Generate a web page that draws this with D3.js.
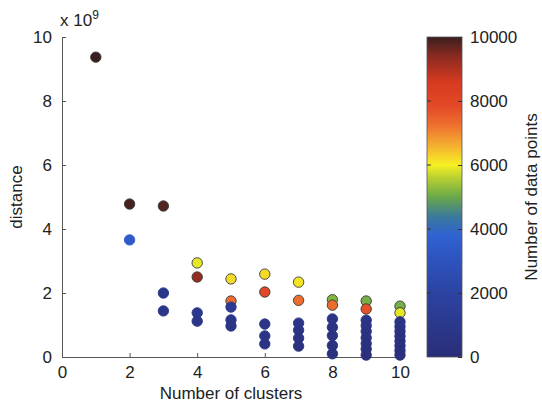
<!DOCTYPE html>
<html>
<head>
<meta charset="utf-8">
<script src="https://cdn.jsdelivr.net/npm/d3@7"></script>
<style>
  body { margin: 0; background: #fff; }
  text { font-family: "Liberation Sans", Arial, sans-serif; fill: #222; }
</style>
</head>
<body>
<div id="graf"></div>
<script>
// Datos: numero de clusters, distancia (x 1e9), puntos por cluster
const clusters = [1, 2, 2, 3, 3, 3,
  4, 4, 4, 4,
  5, 5, 5, 5, 5,
  6, 6, 6, 6, 6,
  7, 7, 7, 7, 7, 7,
  8, 8, 8, 8, 8, 8, 8,
  9, 9, 9, 9, 9, 9, 9, 9, 9,
  10, 10, 10, 10, 10, 10, 10, 10, 10, 10]
const distancias = [9.37, 4.78, 3.66, 4.72, 2.0, 1.44,
  2.94, 2.5, 1.38, 1.12,
  2.44, 1.75, 1.56, 1.16, 0.97,
  2.59, 2.03, 1.03, 0.66, 0.41,
  2.34, 1.77, 1.06, 0.84, 0.59, 0.34,
  1.79, 1.62, 1.19, 0.93, 0.67, 0.36, 0.1,
  1.75, 1.5, 1.15, 0.98, 0.8, 0.6, 0.42, 0.25, 0.06,
  1.59, 1.38, 1.1, 0.95, 0.8, 0.65, 0.5, 0.35, 0.2, 0.06]
const puntos = [10000, 9900, 3400, 9800, 900, 800,
  5900, 9300, 900, 800,
  6200, 7300, 1200, 800, 700,
  6200, 7900, 800, 600, 500,
  6100, 7300, 700, 600, 500, 400,
  5200, 7300, 700, 600, 500, 400, 300,
  5100, 7700, 700, 600, 500, 400, 400, 300, 200,
  5100, 5900, 700, 600, 500, 400, 400, 300, 200, 200]

const xTicks = [0, 2, 4, 6, 8, 10]
const yTicks = [0, 2, 4, 6, 8, 10]
const cTicks = [0, 2000, 4000, 6000, 8000, 10000]

// Mapa de color (tipo jet)
const cStops = [0, 1000, 2000, 3000, 3800, 4400, 5000, 5600, 6000, 6600, 7200, 7800, 8600, 9400, 10000]
const cColors = ["#2a2e78", "#2b388c", "#2c43a2", "#2d53bd", "#3062d2", "#3a7a9a", "#6aa84a",
  "#b8d030", "#f5f022", "#f5b030", "#ef7430", "#e44a28", "#d63a20", "#8a2a20", "#3a1f1f"]

const data = clusters.map((k, i) => ({ k, d: distancias[i], n: puntos[i] }))

const ancho = 542, alto = 404
const fs = "17px"
const svg = d3.select("#graf").append("svg")
  .attr("width", ancho).attr("height", alto)

const x = d3.scaleLinear().domain([0, 10]).range([62, 400])
const y = d3.scaleLinear().domain([0, 10]).range([357, 37])
const color = d3.scaleLinear().domain(cStops).range(cColors)
const cy = d3.scaleLinear().domain([0, 10000]).range([357, 37])

const gris = "#555"

// Ejes
const xAxis = svg.append("g").attr("transform", `translate(0, ${y(0)})`)
  .call(d3.axisBottom(x).tickValues(xTicks).tickSizeInner(-4).tickSizeOuter(0).tickPadding(9))
const yAxis = svg.append("g").attr("transform", `translate(${x(0)}, 0)`)
  .call(d3.axisLeft(y).tickValues(yTicks).tickSizeInner(-4).tickSizeOuter(0).tickPadding(10))
;[xAxis, yAxis].forEach(a => {
  a.select(".domain").attr("stroke", gris)
  a.selectAll(".tick line").attr("stroke", gris)
  a.selectAll("text").style("font-size", fs).attr("fill", "#222")
})

// Puntos
svg.append("g").selectAll("circle")
  .data(data)
  .join("circle")
  .attr("cx", d => x(d.k))
  .attr("cy", d => y(d.d))
  .attr("r", 5.2)
  .attr("fill", d => color(d.n))
  .attr("stroke", d => d.n < 4000 ? color(d.n) : "#3a3a3a")
  .attr("stroke-width", 0.9)

// Multiplicador
const mult = svg.append("text").attr("x", 60).attr("y", 26).style("font-size", fs)
mult.append("tspan").text("x 10")
mult.append("tspan").attr("dy", -7).style("font-size", "12px").text("9")

// Titulos de ejes
svg.append("text")
  .attr("transform", `translate(22, ${y(5)}) rotate(-90)`)
  .attr("text-anchor", "middle")
  .style("font-size", fs)
  .text("distance")
svg.append("text")
  .attr("x", x(5)).attr("y", 399)
  .attr("text-anchor", "middle")
  .style("font-size", fs)
  .text("Number of clusters")

// Barra de color
const defs = svg.append("defs")
const grad = defs.append("linearGradient").attr("id", "cbar")
  .attr("x1", 0).attr("y1", 1).attr("x2", 0).attr("y2", 0)
grad.selectAll("stop").data(cStops).join("stop")
  .attr("offset", d => d / 10000)
  .attr("stop-color", d => color(d))

const cx0 = 427, cx1 = 462
svg.append("rect")
  .attr("x", cx0).attr("y", cy(10000))
  .attr("width", cx1 - cx0).attr("height", cy(0) - cy(10000))
  .attr("fill", "url(#cbar)")
  .attr("stroke", gris).attr("stroke-width", 0.8)

const cAxis = svg.append("g").attr("transform", `translate(${cx1}, 0)`)
  .call(d3.axisRight(cy).tickValues(cTicks).tickFormat(d3.format("d")).tickSizeInner(-4).tickSizeOuter(0).tickPadding(8))
cAxis.select(".domain").remove()
cAxis.selectAll(".tick line").attr("stroke", "#333")
cAxis.selectAll("text").style("font-size", fs).attr("fill", "#222")
svg.append("g").selectAll("line").data(cTicks.slice(1, -1)).join("line")
  .attr("x1", cx0).attr("x2", cx0 + 4)
  .attr("y1", d => cy(d)).attr("y2", d => cy(d))
  .attr("stroke", "#333")

svg.append("text")
  .attr("transform", `translate(537, ${cy(5000)}) rotate(-90)`)
  .attr("text-anchor", "middle")
  .style("font-size", fs)
  .text("Number of data points")
</script>
</body>
</html>
